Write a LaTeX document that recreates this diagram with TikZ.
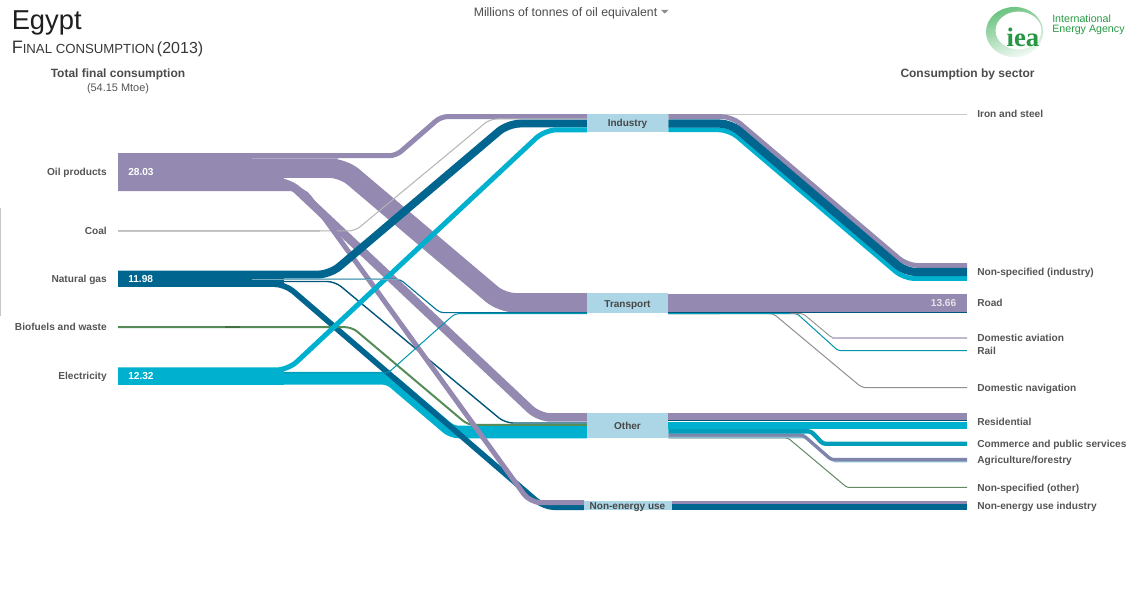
\documentclass[tikz,border=0pt]{standalone}
\usepackage{fontspec}
\setmainfont{Liberation Sans}
\newfontfamily\ieaserif{Liberation Serif}
\definecolor{oilc}{HTML}{9489B1}
\definecolor{gasc}{HTML}{00668F}
\definecolor{elec}{HTML}{00B0CF}
\definecolor{bioc}{HTML}{558C58}
\definecolor{coalc}{HTML}{B4B4B4}
\definecolor{boxc}{HTML}{ACD6E6}
\definecolor{labc}{HTML}{555555}
\definecolor{ieag}{HTML}{2BA84A}
\newcommand{\fs}[1]{\fontsize{#1}{#1}\selectfont}
\pgfdeclarelayer{flows}
\pgfsetlayers{flows,main}
\tikzset{
  x=0.75pt,y=-0.75pt,
  ribbon/.style n args={2}{draw=#1,line width=#2*0.75pt,rounded corners=9pt,line cap=butt},
  tight/.style={rounded corners=#1},
  sidelabel/.style={font=\fs{7.6pt}\bfseries,text=labc,inner sep=0pt},
  leftlabel/.style={sidelabel,anchor=base east},
  rightlabel/.style={sidelabel,anchor=base west},
  valuelabel/.style={font=\fs{7.6pt}\bfseries,text=white,inner sep=0pt},
  sectorbox/.style={fill=boxc,inner sep=0pt},
  sectortext/.style={inner sep=0pt,anchor=base,font=\fs{7.5pt}\bfseries,text=black!72},
  headlabel/.style={font=\fs{9pt}\bfseries,text=black!70,inner sep=0pt,anchor=base},
  sourcebar/.style={inner sep=0pt,anchor=north west},
}
\begin{document}
\begin{tikzpicture}
\useasboundingbox (0,0) rectangle (1136,591);
\begin{pgfonlayer}{flows}
\fill[white] (0,0) rectangle (1136,591);
\draw[black!22,line width=0.75pt] (0.5,208) -- (0.5,316);
\end{pgfonlayer}

% endpoints on the left
\coordinate (oilI) at (118,155.7);
\coordinate (oilT) at (118,168.2);
\coordinate (oilO) at (118,182.2);
\coordinate (oilN) at (118,188.7);
\coordinate (coalI) at (118,231);
\coordinate (gasI) at (118,274.5);
\coordinate (gasT) at (118,279.2);
\coordinate (gasO) at (118,281.5);
\coordinate (gasN) at (118,284.2);
\coordinate (bioO) at (118,327.2);
\coordinate (eleI) at (118,370);
\coordinate (eleT) at (118,373);
\coordinate (eleO) at (118,378.3);
% sector boxes
\node[sectorbox,minimum width=60.75pt,minimum height=13.5pt] (industry) at (627.5,123) {};
\node[sectorbox,minimum width=60.75pt,minimum height=15pt] (transport) at (627.5,303.2) {};
\node[sectorbox,minimum width=60.75pt,minimum height=19pt] (other) at (627.5,425.8) {};
\node[sectorbox,minimum width=66pt,minimum height=7pt] (nonenergy) at (627.5,505.5) {};
\node[sectortext] (tind) at (627.5,126.5) {Industry};
\node[sectortext] (ttra) at (627.5,307.5) {Transport};
\node[sectortext] (toth) at (627.5,430) {Other};
\node[sectortext] (tnon) at (627.5,510) {Non-energy use};
% box-side ends on the left
\coordinate (oilIb) at (587,116.6);
\coordinate (coalIb) at (587,119);
\coordinate (gasIb) at (587,123.6);
\coordinate (eleIb) at (587,129.8);
\coordinate (oilTb) at (587,302.8);
\coordinate (gasTb) at (587,312.7);
\coordinate (eleTb) at (587,313.6);
\coordinate (oilOb) at (587,417.5);
\coordinate (gasOb) at (587,423);
\coordinate (bioOb) at (587,425);
\coordinate (eleOb) at (587,432);
\coordinate (oilNb) at (584,502.6);
\coordinate (gasNb) at (584,507.3);
% right ends
\coordinate (ironE) at (967,114.3);
\coordinate (nsiP) at (967,265.5);
\coordinate (nsiG) at (967,272);
\coordinate (nsiE) at (967,278.6);
\coordinate (roadE) at (967,302.8);
\coordinate (roadL) at (967,312.7);
\coordinate (avE) at (967,337.8);
\coordinate (railE) at (967,350.6);
\coordinate (navE) at (967,387.7);
\coordinate (resP) at (967,416.7);
\coordinate (resG) at (967,421);
\coordinate (resE) at (967,425.8);
\coordinate (comE) at (967,443.8);
\coordinate (agrP) at (967,459.5);
\coordinate (agrB) at (967,461.4);
\coordinate (nsoE) at (967,487.5);
\coordinate (nenP) at (967,502.6);
\coordinate (nenG) at (967,507.3);

\begin{pgfonlayer}{flows}
% flows into the boxes
\draw[ribbon={oilc}{5},tight=5pt] (oilI) -- (396,155.7) -- (441,116.6) -- (oilIb);
\draw[ribbon={oilc}{19.5},tight=10pt] (oilT) -- (343,168.2) -- (502,302.8) -- (oilTb);
\draw[ribbon={oilc}{8.5}] (oilO) -- (289,182.2) -- (539,417.5) -- (oilOb);
\draw[ribbon={coalc!60}{1.6}] (coalI) -- (320,231);
\draw[ribbon={coalc}{1},tight=5pt] (coalI) -- (355,231) -- (490,119) -- (coalIb);
\draw[ribbon={elec}{12.6},tight=5pt] (eleO) -- (389,378.3) -- (452,432) -- (eleOb);
\draw[ribbon={gasc}{5.6},tight=8pt] (gasN) -- (285,284.2) -- (544,507.3) -- (gasNb);
\draw[ribbon={gasc!85!black}{1.4},tight=6pt] (gasO) -- (335,281.5) -- (505,423) -- (gasOb);
\draw[ribbon={bioc}{2},tight=5pt] (bioO) -- (352,327.2) -- (468,425) -- (bioOb);
\draw[ribbon={oilc}{5},tight=8pt] (oilN) -- (303,188.7) -- (530,502.6) -- (oilNb);
\draw[ribbon={gasc!85!elec}{1.1},tight=3pt] (gasT) -- (400,279.2) -- (440,312.7) -- (gasTb);
\draw[ribbon={gasc}{7.8}] (gasI) -- (330,274.5) -- (508,123.6) -- (gasIb);
\draw[ribbon={elec!85!black}{1},tight=3pt] (eleT) -- (388,373) -- (455,313.6) -- (eleTb);
\draw[ribbon={elec}{5}] (eleI) -- (288,370) -- (545,129.8) -- (eleIb);

% source bars
\node[sourcebar,fill=oilc,minimum width=124pt,minimum height=28.3pt] (oilbar) at (118,153) {};
\node[sourcebar,fill=gasc,minimum width=124pt,minimum height=12.1pt] (gasbar) at (118,270.8) {};
\node[sourcebar,fill=elec,minimum width=124pt,minimum height=12.4pt] (elebar) at (118,368) {};
\draw[draw=oilc!75!white,line width=0.4pt] (252,158.2) -- (338,158.2);
\draw[draw=gasc!55!white,line width=0.9pt] (252,279.2) -- (400,279.2);
\draw[draw=bioc!80!black,line width=1.6pt] (225,327.2) -- (240,327.2);

% flows out of the boxes
\draw[draw=black!22,line width=1.1pt] (industry.east |- ironE) -- (ironE);
\draw[ribbon={oilc}{4.8},tight=8pt] (industry.east |- oilIb) -- (732,116.6) -- (907.3,265.5) -- (nsiP);
\draw[ribbon={elec}{4.8},tight=8pt] (industry.east |- eleIb) -- (729.2,129.8) -- (903.9,278.6) -- (nsiE);
\draw[ribbon={gasc}{8.2},tight=8pt] (industry.east |- gasIb) -- (730.6,123.6) -- (905.3,272) -- (nsiG);

\draw[ribbon={coalc!80!black}{1},tight=3pt] (transport.east |- eleTb) -- (773,313.4) -- (862,387.7) -- (navE);
\draw[ribbon={elec!85!black}{1},tight=2pt] (transport.east |- eleTb) -- (797,313.6) -- (838,350.6) -- (railE);
\draw[ribbon={coalc!80!black}{0.9},tight=2pt] (transport.east |- eleTb) -- (803,313.6) -- (832,337.8) -- (avE);
\draw[draw=oilc!60,line width=1.2pt] (832,337.8) -- (avE);
\draw[ribbon={oilc}{18.4}] (transport.east |- oilTb) -- (roadE);
\draw[draw=gasc!85!black,line width=0.75pt] (transport.east |- roadL) -- (roadL);
\draw[draw=elec!70!gasc,line width=0.9pt] (transport.east |- eleTb) -- (790,313.6);

\draw[ribbon={oilc}{7.2}] (other.east |- resP) -- (resP);
\draw[draw=gasc!80!black,line width=0.75pt] (other.east |- resG) -- (resG);
\draw[ribbon={elec}{7.4}] (other.east |- resE) -- (resE);
\draw[ribbon={bioc!70!gray}{1},tight=2pt] (other.east |- 0,438) -- (788,438) -- (847,487.5) -- (nsoE);
\draw[ribbon={gasc!45!white}{2.2},tight=2pt] (other.east |- 0,437.3) -- (806,437.3) -- (834,461.4) -- (agrB);
\draw[ribbon={oilc!85!gasc}{3.3},tight=2pt] (other.east |- 0,435) -- (803,435) -- (831,459.5) -- (agrP);
\draw[ribbon={elec!90!black}{4.4},tight=2pt] (other.east |- 0,431.4) -- (811,431.4) -- (823,443.8) -- (comE);

\draw[ribbon={oilc}{3.6}] (nonenergy.east |- nenP) -- (nenP);
\draw[ribbon={gasc}{5.8}] (nonenergy.east |- nenG) -- (nenG);
\end{pgfonlayer}

% title block
\node[anchor=base west,inner sep=0pt,font=\fs{20.5pt},text=black!88] (title) at (11.5,30) {Egypt};
\node[anchor=base west,inner sep=0pt,text=black!78] (subtitle) at (11.5,54)
  {{\fs{13.5pt}F}{\fs{9.9pt}INAL CONSUMPTION}\,{\fs{12pt}(2013)}};
\node[headlabel] (tfc) at (118,78) {Total final consumption};
\node[inner sep=0pt,font=\fs{8.2pt},text=labc,anchor=base] (tfcv) at (118,91.5) {(54.15 Mtoe)};
\node[headlabel] (cbs) at (967.5,78) {Consumption by sector};
\node[inner sep=0pt,font=\fs{9.2pt},text=black!70,anchor=base] (unit) at (565.5,17) {Millions of tonnes of oil equivalent};
\fill[black!45] (661,10) -- (668.5,10) -- (664.75,13.5) -- cycle;

% left labels and values
\node[leftlabel] (l1) at (107,176) {Oil products};
\node[leftlabel] (l2) at (107,235) {Coal};
\node[leftlabel] (l3) at (107,283) {Natural gas};
\node[leftlabel] (l4) at (107,331) {Biofuels and waste};
\node[leftlabel] (l5) at (107,380) {Electricity};
\node[valuelabel,anchor=base west] (v1) at (128,176) {28.03};
\node[valuelabel,anchor=base west] (v3) at (128,283) {11.98};
\node[valuelabel,anchor=base west] (v5) at (128,380) {12.32};
\node[valuelabel,anchor=base east,text=white!90!black] (v6) at (956.5,307) {13.66};

% right labels
\node[rightlabel] (r1) at (977,118) {Iron and steel};
\node[rightlabel] (r2) at (977,276) {Non-specified (industry)};
\node[rightlabel] (r3) at (977,307) {Road};
\node[rightlabel] (r4) at (977,342) {Domestic aviation};
\node[rightlabel] (r5) at (977,355) {Rail};
\node[rightlabel] (r6) at (977,392) {Domestic navigation};
\node[rightlabel] (r7) at (977,426) {Residential};
\node[rightlabel] (r8) at (977,448) {Commerce and public services};
\node[rightlabel] (r9) at (977,464) {Agriculture/forestry};
\node[rightlabel] (r10) at (977,492) {Non-specified (other)};
\node[rightlabel] (r11) at (977,510) {Non-energy use industry};

% IEA logo
\shade[left color=ieag!70,right color=ieag!6,shading angle=20] (1014.5,32) ellipse [x radius=21.4pt,y radius=18.8pt];
\fill[white] (1018.5,30.5) ellipse [x radius=17.2pt,y radius=14.2pt];
\node[inner sep=0pt,font=\ieaserif\fs{20pt}\bfseries,text=ieag!90!black,anchor=base] (ieaword) at (1023,47) {iea};
\node[anchor=base west,inner sep=0pt,font=\fs{8pt},text=ieag!92!black] (ieaA) at (1052,22.5) {International};
\node[anchor=base west,inner sep=0pt,font=\fs{8pt},text=ieag!92!black] (ieaB) at (1052,32.5) {Energy Agency};
\end{tikzpicture}
\end{document}
